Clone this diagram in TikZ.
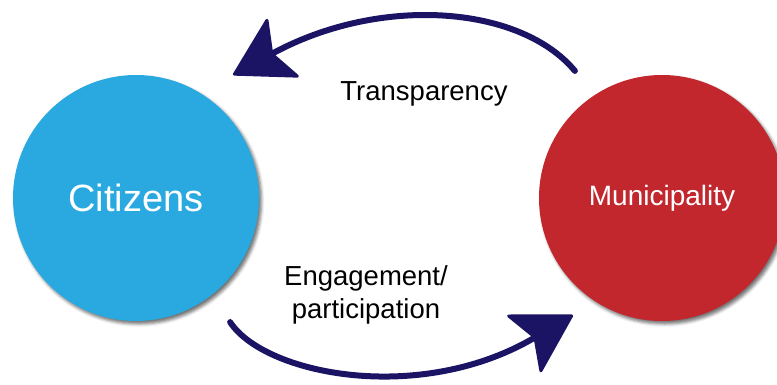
\documentclass[tikz,border=0pt]{standalone}
\usepackage{fontspec}
\setmainfont{Liberation Sans}
\usetikzlibrary{arrows.meta,shadows.blur}
\definecolor{cblue}{HTML}{29A9E0}
\definecolor{cred}{HTML}{C1272D}
\definecolor{navy}{HTML}{1B1464}
\begin{document}
\begin{tikzpicture}[x=1pt,y=-1pt,
  circ/.style={circle, minimum size=246pt, inner sep=0pt, text=white,
    blur shadow={shadow xshift=2.5pt, shadow yshift=-3pt, shadow blur radius=3pt, shadow opacity=55}},
  flow/.style={draw=navy, line width=6pt, line cap=round,
    -{Stealth[length=60pt,width=70pt,inset=13pt,round,line width=3pt]}},
  lbl/.style={text=black, font=\fontsize{27.5}{33}\selectfont, align=center, inner sep=0pt}
]
\useasboundingbox (0,0) rectangle (777,385);
\node[circ, fill=cblue, font=\fontsize{38}{44}\selectfont] (C) at (136,198) {Citizens};
\node[circ, fill=cred, font=\fontsize{28}{33}\selectfont] (M) at (662,198) {Municipality};
\node[lbl] (T) at (424,94) {Transparency};
\node[lbl] (E) at (366,295) {Engagement/\\participation};
\draw[flow] ([yshift=40pt]M.north west) .. controls (520,5) and (380,-5) .. ([xshift=10pt,yshift=36pt]C.north east);
\draw[flow] ([xshift=7pt,yshift=-37pt]C.south east) .. controls (265,375) and (420,405) .. ([xshift=-2pt,yshift=-30pt]M.south west);
\end{tikzpicture}
\end{document}
